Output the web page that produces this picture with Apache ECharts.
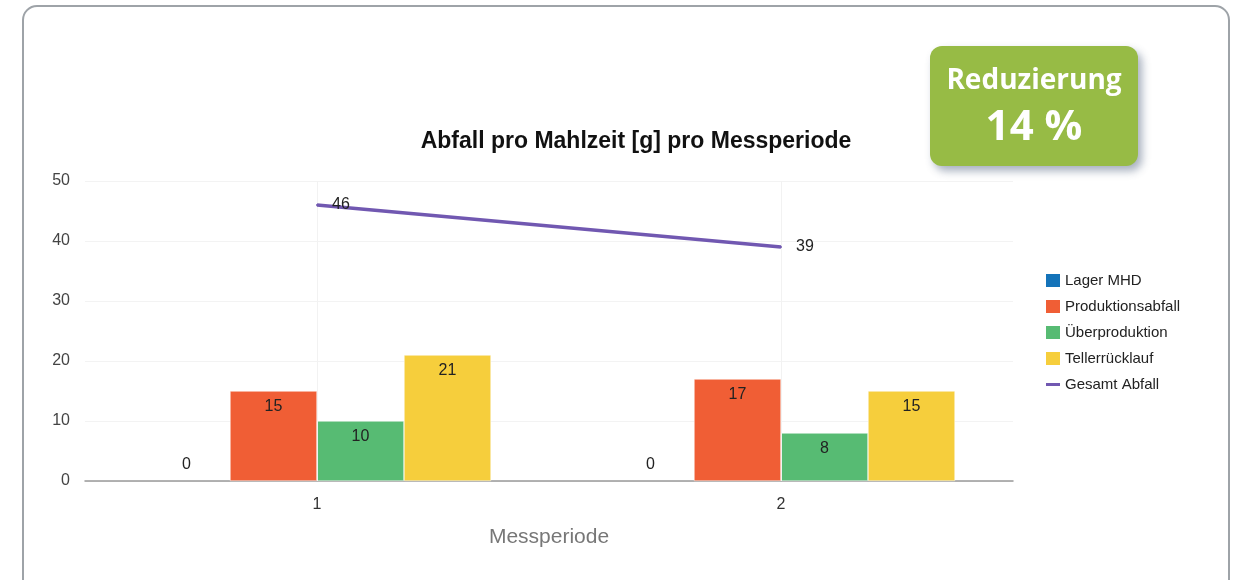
<!DOCTYPE html>
<html>
<head>
<meta charset="utf-8">
<script src="https://cdn.jsdelivr.net/npm/echarts@6/dist/echarts.min.js"></script>
<style>
html,body{margin:0;padding:0;background:#fff;}
#c{width:1234px;height:580px;}
</style>
</head>
<body>
<div id="c"></div>
<script>
const categories = ['1', '2'];
const lagerMHD = [0, 0];
const produktionsabfall = [15, 17];
const ueberproduktion = [10, 8];
const tellerruecklauf = [21, 15];
const gesamtAbfall = [46, 39];
const yTicks = [0, 10, 20, 30, 40, 50];

const chart = echarts.init(document.getElementById('c'));
const font = '"Liberation Sans", Arial, sans-serif';
const barLabel = {show: true, position: 'insideTop', distance: 8, color: '#222', fontSize: 16, fontFamily: font};

chart.setOption({
  animation: false,
  title: {
    text: 'Abfall pro Mahlzeit [g] pro Messperiode',
    left: 631, top: 125, textAlign: 'center',
    textStyle: {fontFamily: font, fontWeight: 'bold', fontSize: 23, color: '#111'}
  },
  graphic: [
    {type: 'rect', shape: {x: 23, y: 6, width: 1206, height: 590, r: 14}, style: {fill: 'none', stroke: '#9ea3a8', lineWidth: 2}, z: -10},
    {type: 'rect', shape: {x: 930, y: 46, width: 208, height: 120, r: 12},
     style: {fill: '#97bb45', shadowBlur: 8, shadowOffsetX: 4, shadowOffsetY: 5, shadowColor: 'rgba(60,80,110,0.45)'}, z: 10},
    {type: 'text', x: 1034, y: 81, style: {text: 'Reduzierung', fill: '#fff', font: 'bold 28px "Open Sans", sans-serif', align: 'center', verticalAlign: 'middle'}, z: 11},
    {type: 'text', x: 1034, y: 128, style: {text: '14 %', fill: '#fff', font: 'bold 42px "Open Sans", sans-serif', align: 'center', verticalAlign: 'middle'}, z: 11}
  ],
  legend: {
    orient: 'vertical', left: 1041, top: 268, itemGap: 11,
    itemWidth: 14, itemHeight: 13,
    textStyle: {fontFamily: font, fontSize: 15, color: '#222'},
    data: [
      {name: 'Lager MHD', icon: 'rect', itemStyle: {borderWidth: 0}},
      {name: 'Produktionsabfall', icon: 'rect', itemStyle: {borderWidth: 0}},
      {name: 'Überproduktion', icon: 'rect', itemStyle: {borderWidth: 0}},
      {name: 'Tellerrücklauf', icon: 'rect', itemStyle: {borderWidth: 0}},
      {name: 'Gesamt Abfall', icon: 'path://M0,5 L14,5 L14,8 L0,8 Z', itemStyle: {color: '#7158b1', borderWidth: 0}}
    ]
  },
  grid: {left: 85, right: 221, top: 181, bottom: 99},
  xAxis: {
    type: 'category', data: categories,
    name: 'Messperiode', nameLocation: 'middle', nameGap: 46,
    nameTextStyle: {fontFamily: font, fontSize: 21, color: '#777'},
    axisLine: {lineStyle: {color: '#999', width: 1.5}},
    axisTick: {show: false},
    axisLabel: {fontFamily: font, fontSize: 16, color: '#333', margin: 16},
    splitLine: {show: false}
  },
  yAxis: {
    type: 'value', min: 0, max: 50, interval: 10,
    axisLine: {show: false}, axisTick: {show: false},
    axisLabel: {fontFamily: font, fontSize: 16, color: '#444', margin: 15,
      formatter: v => yTicks.includes(v) ? String(v) : ''},
    splitLine: {lineStyle: {color: '#f3f3f3'}}
  },
  series: [
    {name: 'Lager MHD', type: 'bar', data: lagerMHD, barCategoryGap: '25%', barGap: '0%',
     itemStyle: {color: '#1473b9'},
     label: {show: true, position: 'top', distance: 8, color: '#222', fontSize: 16, fontFamily: font}},
    {name: 'Produktionsabfall', type: 'bar', data: produktionsabfall, barGap: '0%', barCategoryGap: '25%',
     itemStyle: {color: '#f05e35', borderColor: '#fff', borderWidth: 0.5}, label: barLabel},
    {name: 'Überproduktion', type: 'bar', data: ueberproduktion, barGap: '0%', barCategoryGap: '25%',
     itemStyle: {color: '#57bb73', borderColor: '#fff', borderWidth: 0.5}, label: barLabel},
    {name: 'Tellerrücklauf', type: 'bar', data: tellerruecklauf, barGap: '0%', barCategoryGap: '25%',
     itemStyle: {color: '#f6ce3c', borderColor: '#fff', borderWidth: 0.5}, label: barLabel},
    {name: 'Gesamt Abfall', type: 'line', data: gesamtAbfall, symbol: 'circle', symbolSize: 2, showSymbol: true, z: 5,
     lineStyle: {color: '#7158b1', width: 3.5}, itemStyle: {color: '#7158b1'},
     label: {show: true, position: 'right', distance: 14, color: '#222', fontSize: 16, fontFamily: font},
     markLine: {silent: true, symbol: 'none', label: {show: false},
       lineStyle: {color: '#f2f2f2', width: 1, type: 'solid'},
       data: [{xAxis: '1'}, {xAxis: '2'}]}}
  ]
});
</script>
</body>
</html>
